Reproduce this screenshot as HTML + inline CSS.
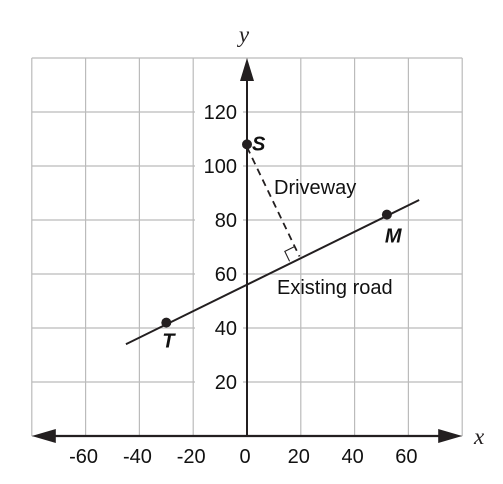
<!DOCTYPE html>
<html><head><meta charset="utf-8"><style>
body{margin:0;background:#fff}
svg{display:block;font-family:"Liberation Sans",sans-serif}
</style></head><body>
<svg id="chart" width="503" height="484" viewBox="0 0 503 484" xmlns="http://www.w3.org/2000/svg">
<g id="grid"></g>
<g id="ticks"></g>
<g id="marks"></g>
</svg>
<script>
const xTicks = [-60, -40, -20, 0, 20, 40, 60];
const yTicks = [20, 40, 60, 80, 100, 120];
const gridX = [-80, -60, -40, -20, 0, 20, 40, 60, 80];
const gridY = [0, 20, 40, 60, 80, 100, 120, 140];
const pointNames = ["S", "T", "M"];
const pointX = [0, -30, 52];
const pointY = [108, 42, 82];
const roadX = [-45, 64];
const roadY = [34, 87.4];
const drivewayX = [0, 19.5];
const drivewayY = [107, 66.5];

const X = v => 247 + v * 2.69;
const Y = v => 436 - v * 2.7;
const NS = "http://www.w3.org/2000/svg";
function mk(tag, attrs, parent, text){
  const e = document.createElementNS(NS, tag);
  for (const k in attrs) e.setAttribute(k, attrs[k]);
  if (text !== undefined) e.textContent = text;
  parent.appendChild(e); return e;
}
const grid = document.getElementById('grid');
const ticks = document.getElementById('ticks');
const marks = document.getElementById('marks');

gridX.forEach(v => {
  const l = mk('line', {x1:X(v), x2:X(v), y1:Y(140), y2:Y(0), stroke:'#bbb', 'stroke-width':1.2}, grid);
  
  
});
gridY.forEach(v => {
  const l = mk('line', {x1:X(-80), x2:X(80), y1:Y(v), y2:Y(v), stroke:'#bbb', 'stroke-width':1.2}, grid);
  
  
});

let ax = mk('line', {x1:X(-80)+14, x2:X(80)-14, y1:Y(0), y2:Y(0), stroke:'#231f20', 'stroke-width':2.2}, marks);


let a1 = mk('polygon', {points:`${X(-80)},${Y(0)} ${X(-80)+24},${Y(0)-7} ${X(-80)+24},${Y(0)+7}`, fill:'#231f20'}, marks);


let a2 = mk('polygon', {points:`${X(80)},${Y(0)} ${X(80)-24},${Y(0)-7} ${X(80)-24},${Y(0)+7}`, fill:'#231f20'}, marks);


let ay = mk('line', {x1:X(0), x2:X(0), y1:Y(0), y2:Y(140)+14, stroke:'#231f20', 'stroke-width':2}, marks);


let a3 = mk('polygon', {points:`${X(0)},${Y(140)} ${X(0)-7},${Y(140)+23} ${X(0)+7},${Y(140)+23}`, fill:'#231f20'}, marks);



xTicks.forEach(v => {
  const t = mk('text', {x:X(v)-2, y:Y(0)+27, 'text-anchor':'middle', 'font-size':20, fill:'#111'}, ticks, String(v));
  
  
});
yTicks.forEach(v => {
  const bg = mk('rect', {x:X(0)-52, y:Y(v)-11, width:48, height:22, fill:'#fff'}, ticks);
  
  
  const t = mk('text', {x:X(0)-10, y:Y(v)+7, 'text-anchor':'end', 'font-size':20, fill:'#111'}, ticks, String(v));
  
  
});
let xl = mk('text', {x:474, y:444, 'font-family':'Liberation Serif,serif', 'font-style':'italic', 'font-size':23, fill:'#231f20'}, ticks, 'x');


let yl = mk('text', {x:X(0)-3, y:42, 'text-anchor':'middle', 'font-family':'Liberation Serif,serif', 'font-style':'italic', 'font-size':23, fill:'#231f20'}, ticks, 'y');



let road = mk('line', {x1:X(roadX[0]), y1:Y(roadY[0]), x2:X(roadX[1]), y2:Y(roadY[1]), stroke:'#231f20', 'stroke-width':2}, marks);


const dx1 = X(drivewayX[0]), dy1 = Y(drivewayY[0]), dx2 = X(drivewayX[1]), dy2 = Y(drivewayY[1]);
let dw = mk('line', {x1:dx1, y1:dy1, x2:dx2, y2:dy2, stroke:'#231f20', 'stroke-width':1.8, 'stroke-dasharray':'7,5'}, marks);


const len = Math.hypot(dx1-dx2, dy1-dy2);
const ux = (dx1-dx2)/len, uy = (dy1-dy2)/len;
const rl = Math.hypot(X(roadX[1])-X(roadX[0]), Y(roadY[1])-Y(roadY[0]));
const vx = -(X(roadX[1])-X(roadX[0]))/rl, vy = -(Y(roadY[1])-Y(roadY[0]))/rl;
const s = 11;
let ra = mk('polyline', {points:`${dx2+ux*s},${dy2+uy*s} ${dx2+ux*s+vx*s},${dy2+uy*s+vy*s} ${dx2+vx*s},${dy2+vy*s}`, fill:'none', stroke:'#231f20', 'stroke-width':1.1}, marks);



const lblOff = {S:[5,6], T:[-4,25], M:[-2,28]};
pointNames.forEach((n,i) => {
  const c = mk('circle', {cx:X(pointX[i]), cy:Y(pointY[i]), r:5, fill:'#231f20'}, marks);
  
  
  const t = mk('text', {x:X(pointX[i])+lblOff[n][0], y:Y(pointY[i])+lblOff[n][1], 'font-size':20, 'font-weight':'bold', 'font-style':'italic', fill:'#111'}, marks, n);
  
  
});

let l1 = mk('text', {x:274, y:194, 'font-size':20, fill:'#111'}, marks, 'Driveway');


let l2 = mk('text', {x:277, y:294, 'font-size':20, fill:'#111'}, marks, 'Existing road');


</script>
</body></html>
